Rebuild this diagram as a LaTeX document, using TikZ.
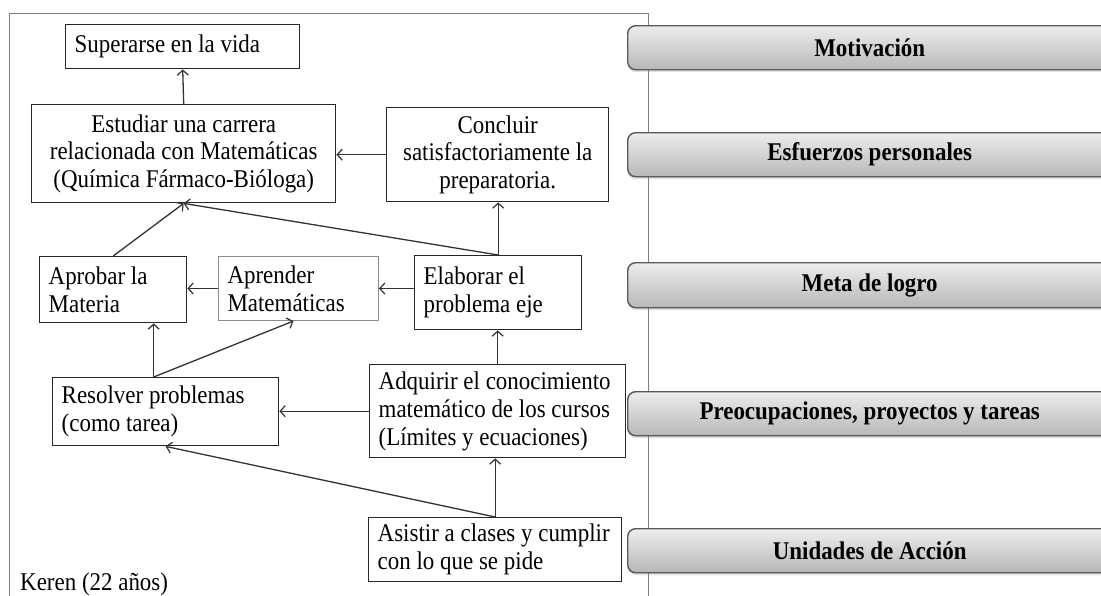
\documentclass[tikz,border=0pt]{standalone}
\usepackage{fontspec}
\setmainfont{Liberation Serif}[FakeStretch=0.9]
\usetikzlibrary{arrows.meta,shadows}

% one unbreakable line with the font's own interword space
\newcommand{\oneline}[1]{\mbox{\spaceskip=0pt\xspaceskip=0pt\relax #1}}

\begin{document}
\begin{tikzpicture}[x=1pt,y=-1pt,
  every node/.style={font=\fontsize{25.5}{27.7}\selectfont, text=black},
  box/.style={draw=black!85, line width=1.4pt, rectangle, inner xsep=9pt,
    inner ysep=0pt, anchor=north west},
  lbox/.style={box, align=left, text width=#1},
  cbox/.style={box, align=center, text width=#1},
  link/.style={draw=black!80, line width=1.3pt,
    -{Straight Barb[length=5pt,width=11pt,line width=1.2pt]}},
  band/.style={draw=black!65, line width=1.4pt, rounded corners=8pt,
    top color=black!7, bottom color=black!28, minimum width=484pt,
    minimum height=44pt, anchor=north west, inner sep=0pt,
    font=\fontsize{25.5}{28}\selectfont\bfseries,
    drop shadow={shadow xshift=0pt, shadow yshift=-2.5pt, opacity=0.25}},
  frame/.style={draw=black!50, line width=1pt},
]
\clip (0,0) rectangle (1101,595);
\fill[white] (0,0) rectangle (1101,595);

% outer frame of the chart
\draw[frame] (9,600) -- (9,13) -- (648.5,13) -- (648.5,600);

% level bands on the right
\node[band] (lv1) at (627,25)  {Motivación};
\node[band] (lv2) at (627,132) {Esfuerzos personales};
\node[band, minimum height=45pt] (lv3) at (627,262) {Meta de logro};
\node[band] (lv4) at (627,391) {Preocupaciones, proyectos y tareas};
\node[band] (lv5) at (627,528) {Unidades de Acción};

% goal boxes
\node[lbox=216pt, minimum height=44pt] (sup) at (65,24) {\oneline{Superarse en la vida}};
\node[cbox=286pt, minimum height=98pt] (est) at (31,104)
  {\oneline{Estudiar una carrera}\\\oneline{relacionada con Matemáticas}\\\oneline{(Química Fármaco-Bióloga)}};
\node[cbox=204pt, minimum height=94pt] (con) at (386,107)
  {\oneline{Concluir}\\\oneline{satisfactoriamente la}\\\oneline{preparatoria.}};
\node[lbox=129pt, minimum height=66pt] (apr) at (39,256) {\oneline{Aprobar la}\\\oneline{Materia}};
\node[lbox=142pt, minimum height=64pt, draw=black!45, line width=1pt] (apm) at (218,256)
  {\oneline{Aprender}\\\oneline{Matemáticas}};
\node[lbox=149pt, minimum height=74pt] (ela) at (414,255) {\oneline{Elaborar el}\\\oneline{problema eje}};
\node[lbox=208pt, minimum height=68pt] (res) at (52,377) {\oneline{Resolver problemas}\\\oneline{(como tarea)}};
\node[lbox=238pt, minimum height=93pt] (adq) at (369,364)
  {\oneline{Adquirir el conocimiento}\\\oneline{matemático de los cursos}\\\oneline{(Límites y ecuaciones)}};
\node[lbox=235pt, minimum height=64pt] (asi) at (368,517)
  {\oneline{Asistir a clases y cumplir}\\\oneline{con lo que se pide}};

\node[anchor=base west, inner sep=0pt] (who) at (20,590) {Keren (22 años)};

% connectors
\coordinate (rt) at ([xshift=-12pt]res.north);
\draw[link] (est.north) -- (sup.south);
\draw[link] (con.west) -- (est.east |- con.west);
\draw[link] (apr.north) -- (est.south);
\draw[link] (ela.north) -- (est.south);
\draw[link] (ela.north) -- (ela.north |- con.south);
\draw[link] (apm.west) -- (apr.east |- apm.west);
\draw[link] (ela.west |- apm.east) -- (apm.east);
\draw[link] (rt) -- (rt |- apr.south);
\draw[link] (rt) -- ([xshift=-5pt]apm.south);
\draw[link] (adq.west) -- (res.east |- adq.west);
\draw[link] (adq.north) -- (adq.north |- ela.south);
\draw[link] (asi.north) -- (asi.north |- adq.south);
\draw[link] (asi.north) -- (res.south);
\end{tikzpicture}
\end{document}
